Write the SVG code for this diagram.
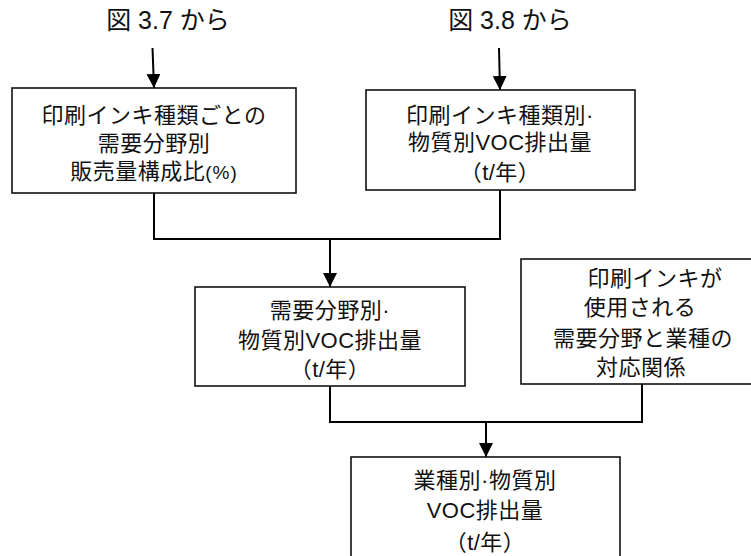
<svg xmlns="http://www.w3.org/2000/svg" width="751" height="556" viewBox="0 0 751 556">
<defs>
<marker id="ah" markerWidth="14" markerHeight="14" viewBox="0 0 14 14" refX="14" refY="7" orient="auto" markerUnits="userSpaceOnUse">
<path d="M0,0 L14,7 L0,14 Z" fill="#000"/>
</marker>
<style>
.box{fill:#fff;stroke:#111;stroke-width:1.6}
.t{font-family:"Liberation Sans","Noto Sans CJK JP",sans-serif;font-size:22px;fill:#111;text-anchor:middle;letter-spacing:0.5px}
.ti{font-family:"Liberation Sans","Noto Sans CJK JP",sans-serif;font-size:25px;fill:#111;text-anchor:middle}
.c{fill:none;stroke:#000;stroke-width:2}
.pc{font-size:19px;letter-spacing:1px}
</style>
</defs>
<rect width="751" height="556" fill="#fff"/>
<g id="title1"><text class="ti" x="168" y="29">図 3.7 から</text></g>
<g id="title2"><text class="ti" x="510" y="29">図 3.8 から</text></g>
<g id="connectors">
<path class="c" d="M152.5,48 L154,88" marker-end="url(#ah)"/>
<path class="c" d="M499,48 L500,90" marker-end="url(#ah)"/>
<path class="c" d="M154,193 V239 H500 V190"/>
<path class="c" d="M330,239 V287" marker-end="url(#ah)"/>
<path class="c" d="M330,386 V422 H642 V384"/>
<path class="c" d="M486,422 V457" marker-end="url(#ah)"/>
</g>
<g id="n1">
<rect class="box" x="12" y="88" width="284" height="105"/>
<text class="t" x="154" y="123">印刷インキ種類ごとの</text>
<text class="t" x="154" y="151">需要分野別</text>
<text class="t" x="154" y="179">販売量構成比<tspan class="pc">(%)</tspan></text>
</g>
<g id="n2">
<rect class="box" x="366" y="90" width="269" height="100"/>
<text class="t" x="500" y="123">印刷インキ種類別·</text>
<text class="t" x="500" y="150">物質別VOC排出量</text>
<text class="t" x="500" y="180">（t/年）</text>
</g>
<g id="n3">
<rect class="box" x="195" y="287" width="270" height="99"/>
<text class="t" x="330" y="318">需要分野別·</text>
<text class="t" x="330" y="348">物質別VOC排出量</text>
<text class="t" x="330" y="377">（t/年）</text>
</g>
<g id="n4">
<rect class="box" x="521" y="259" width="236" height="125"/>
<text class="t" x="655" y="286">印刷インキが</text>
<text class="t" x="640" y="315">使用される</text>
<text class="t" x="643" y="346">需要分野と業種の</text>
<text class="t" x="641" y="375">対応関係</text>
</g>
<g id="n5">
<rect class="box" x="351" y="457" width="269" height="110"/>
<text class="t" x="485" y="488">業種別·物質別</text>
<text class="t" x="485" y="518">VOC排出量</text>
<text class="t" x="485" y="550">（t/年）</text>
</g>
</svg>
